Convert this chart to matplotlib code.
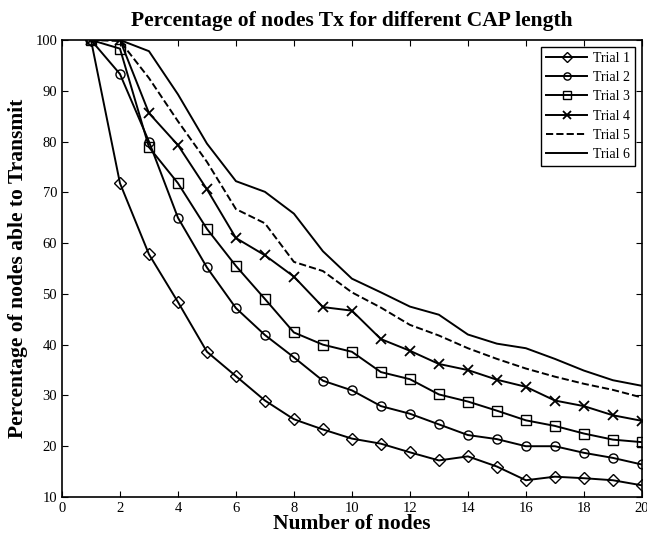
import matplotlib
matplotlib.use('Agg')
import matplotlib.pyplot as plt

plt.rcParams['font.family'] = ['Liberation Serif', 'DejaVu Serif']

# === Datos ===
nodes = list(range(1, 21))
trial1 = [100, 71.8, 57.8, 48.4, 38.6, 33.8, 29.0, 25.3, 23.3, 21.5,
          20.5, 18.8, 17.2, 18.0, 16.0, 13.3, 14.0, 13.7, 13.3, 12.3]
trial2 = [100, 93.3, 80.0, 65.0, 55.2, 47.2, 41.9, 37.5, 32.9, 31.0,
          27.9, 26.4, 24.3, 22.2, 21.4, 20.0, 20.0, 18.7, 17.7, 16.4]
trial3 = [100, 98.3, 78.9, 71.8, 62.8, 55.5, 49.0, 42.4, 40.0, 38.6,
          34.6, 33.2, 30.2, 28.8, 27.0, 25.1, 24.0, 22.5, 21.3, 20.8]
trial4 = [100, 100, 85.6, 79.3, 70.6, 61.0, 57.6, 53.4, 47.4, 46.7,
          41.1, 38.8, 36.2, 35.0, 33.1, 31.7, 29.0, 27.9, 26.1, 25.0]
trial5 = [100, 99.8, 92.5, 84.0, 76.0, 66.7, 63.9, 56.3, 54.5, 50.3,
          47.3, 43.9, 41.8, 39.3, 37.2, 35.3, 33.7, 32.3, 31.1, 29.6]
trial6 = [100, 100, 97.8, 89.3, 79.6, 72.2, 70.1, 65.8, 58.4, 53.0,
          50.3, 47.5, 45.9, 42.0, 40.2, 39.3, 37.2, 34.9, 33.0, 31.9]
labels = ['Trial 1', 'Trial 2', 'Trial 3', 'Trial 4', 'Trial 5', 'Trial 6']
x_ticks = list(range(0, 21, 2))
y_ticks = list(range(10, 101, 10))

# === Gráfico ===
fig = plt.figure(figsize=(6.47, 5.37), dpi=100)
ax = fig.add_axes([0.0958, 0.0745, 0.8962, 0.851])

styles = [
    dict(marker='D', markersize=6.5, linestyle='-'),
    dict(marker='o', markersize=6.5, linestyle='-'),
    dict(marker='s', markersize=6.5, linestyle='-'),
    dict(marker='x', markersize=7, markeredgewidth=1.3, linestyle='-'),
    dict(marker=None, linestyle='--'),
    dict(marker=None, linestyle='-'),
]
series = [trial1, trial2, trial3, trial4, trial5, trial6]
for vals, lab, st in zip(series, labels, styles):
    ax.plot(nodes, vals, color='black', linewidth=1.4, label=lab,
            markerfacecolor='none', markeredgecolor='black', **st)

ax.set_xlim(0, 20)
ax.set_ylim(10, 100)
ax.set_xticks(x_ticks)
ax.set_yticks(y_ticks)
ax.tick_params(direction='in', top=True, right=True, labelsize=10.5, length=4)
for sp in ax.spines.values():
    sp.set_linewidth(1.2)

ax.set_xlabel('Number of nodes', fontsize=15.5, fontweight='bold', labelpad=-0.5)
ax.set_ylabel('Percentage of nodes able to Transmit', fontsize=15.5,
              fontweight='bold', labelpad=5)
ax.set_title('Percentage of nodes Tx for different CAP length', fontsize=15.5,
             fontweight='bold', pad=10)

leg = ax.legend(loc='upper right', fontsize=10, fancybox=False, framealpha=1,
                edgecolor='black', borderpad=0.35, labelspacing=0.45,
                handlelength=3.0, handletextpad=0.4, borderaxespad=0.5,
                markerscale=0.8)
leg.get_frame().set_linewidth(1.0)

plt.savefig('out.png', dpi=100)
